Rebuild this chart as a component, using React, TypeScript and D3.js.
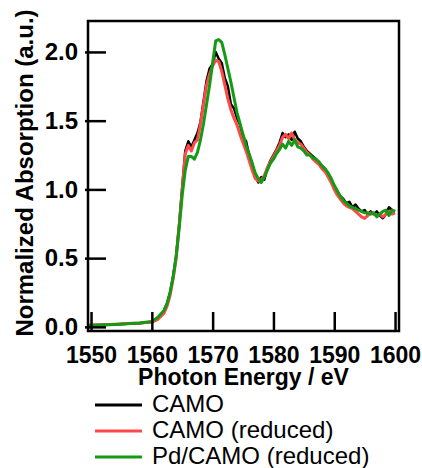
import React, { useEffect, useRef } from 'react';
import * as d3 from 'd3';

const energy = [
  1549.6, 1552, 1554, 1556, 1558, 1560, 1561,
  1562, 1562.5, 1563, 1563.5, 1564, 1564.5, 1565, 1565.5, 1566, 1566.5,
  1567, 1567.5, 1568, 1568.5, 1569, 1569.5, 1570, 1570.5, 1571, 1571.5,
  1572, 1572.5, 1573, 1573.5, 1574, 1574.5, 1575, 1575.5, 1576, 1576.5,
  1577, 1577.5, 1578, 1578.5, 1579, 1579.5, 1580, 1580.5, 1581, 1581.5,
  1582, 1582.5, 1583, 1583.5, 1584, 1584.5, 1585, 1585.5, 1586, 1586.5,
  1587, 1587.5, 1588, 1588.5, 1589, 1589.5, 1590, 1590.5, 1591, 1591.5,
  1592, 1592.5, 1593, 1593.5, 1594, 1594.5, 1595, 1595.5, 1596, 1596.5,
  1597, 1597.5, 1598, 1598.5, 1599, 1599.5, 1600,
];

const camo = [
  0.012, 0.015, 0.018, 0.022, 0.027, 0.035, 0.06,
  0.12, 0.17, 0.25, 0.37, 0.52, 0.75, 1.02, 1.28, 1.35, 1.31,
  1.36, 1.41, 1.49, 1.64, 1.79, 1.88, 1.91, 2.00, 1.95, 1.92,
  1.81, 1.75, 1.62, 1.59, 1.52, 1.47, 1.38, 1.35, 1.25, 1.19,
  1.10, 1.05, 1.09, 1.07, 1.15, 1.21, 1.25, 1.29, 1.34, 1.41,
  1.38, 1.40, 1.36, 1.42, 1.37, 1.35, 1.31, 1.28, 1.26, 1.24,
  1.22, 1.19, 1.17, 1.15, 1.11, 1.07, 1.02, 0.98, 0.95, 0.93,
  0.90, 0.91, 0.87, 0.89, 0.86, 0.84, 0.85, 0.82, 0.84, 0.82,
  0.84, 0.81, 0.79, 0.82, 0.87, 0.85, 0.84,
];

const camoReduced = [
  0.012, 0.016, 0.02, 0.024, 0.028, 0.035, 0.055,
  0.10, 0.15, 0.23, 0.35, 0.50, 0.74, 1.00, 1.26, 1.32, 1.28,
  1.34, 1.36, 1.48, 1.62, 1.76, 1.84, 1.90, 1.94, 1.93, 1.86,
  1.76, 1.66, 1.58, 1.52, 1.47, 1.40, 1.34, 1.28, 1.21, 1.14,
  1.08, 1.06, 1.07, 1.10, 1.16, 1.20, 1.24, 1.28, 1.32, 1.38,
  1.40, 1.37, 1.41, 1.36, 1.34, 1.33, 1.30, 1.27, 1.25, 1.22,
  1.20, 1.18, 1.15, 1.13, 1.09, 1.05, 1.00, 0.96, 0.93, 0.90,
  0.88, 0.87, 0.86, 0.84, 0.82, 0.80, 0.79, 0.81, 0.83, 0.82,
  0.81, 0.82, 0.80, 0.82, 0.84, 0.82, 0.83,
];

const pdCamoReduced = [
  0.01, 0.014, 0.018, 0.022, 0.028, 0.04, 0.07,
  0.12, 0.17, 0.25, 0.36, 0.51, 0.72, 0.96, 1.14, 1.24, 1.24,
  1.22, 1.27, 1.36, 1.48, 1.62, 1.76, 1.92, 2.08, 2.09, 2.07,
  1.98, 1.88, 1.78, 1.67, 1.56, 1.48, 1.40, 1.32, 1.26, 1.19,
  1.12, 1.08, 1.05, 1.09, 1.14, 1.19, 1.22, 1.26, 1.29, 1.33,
  1.30, 1.35, 1.32, 1.36, 1.31, 1.30, 1.28, 1.25, 1.25, 1.23,
  1.22, 1.20, 1.17, 1.15, 1.12, 1.08, 1.03, 0.99, 0.95, 0.92,
  0.90, 0.88, 0.87, 0.86, 0.85, 0.84, 0.83, 0.83, 0.82, 0.83,
  0.80, 0.82, 0.84, 0.85, 0.81, 0.85, 0.84,
];

const seriesNames = ['CAMO', 'CAMO (reduced)', 'Pd/CAMO (reduced)'];
const seriesColors = ['#000000', '#ff4848', '#149a14'];
const xTicks = [1550, 1560, 1570, 1580, 1590, 1600];
const yTicks = [0, 0.5, 1.0, 1.5, 2.0];

const FONT = '"Liberation Sans", Arial, Helvetica, sans-serif';

const App = () => {
  const svgRef = useRef<SVGSVGElement>(null);

  useEffect(() => {
    const svg = d3.select(svgRef.current);
    svg.selectAll('*').remove();

    const left = 88, right = 399, top = 21, bottom = 331;

    const x = d3.scaleLinear().domain([1549.5, 1600.65]).range([left, right]);
    const y = d3.scaleLinear().domain([-0.03, 2.225]).range([bottom, top]);

    // curves
    const allSeries = [camo, camoReduced, pdCamoReduced];
    const line = d3.line<number>()
      .x((d, i) => x(energy[i]))
      .y((d) => y(d));

    allSeries.forEach((vals, k) => {
      svg.append('path')
        .datum(vals)
        .attr('d', line)
        .attr('fill', 'none')
        .attr('stroke', seriesColors[k])
        .attr('stroke-width', k === 0 ? 2.5 : 3)
        .attr('stroke-linejoin', 'round');
    });

    // frame
    svg.append('rect')
      .attr('x', left)
      .attr('y', top)
      .attr('width', right - left)
      .attr('height', bottom - top)
      .attr('fill', 'none')
      .attr('stroke', '#000')
      .attr('stroke-width', 2.5);

    // y axis
    const yAxis = d3.axisLeft(y)
      .tickValues(yTicks)
      .tickFormat(d3.format('.1f'))
      .tickSize(0)
      .tickPadding(10);
    const gy = svg.append('g')
      .attr('transform', `translate(${left},0)`)
      .call(yAxis);
    gy.select('.domain').remove();
    gy.selectAll('.tick line')
      .attr('x1', -3)
      .attr('x2', 18)
      .attr('stroke', '#000')
      .attr('stroke-width', 2.5);
    gy.selectAll('.tick text')
      .attr('fill', '#000')
      .style('font-family', FONT)
      .style('font-weight', 'bold')
      .style('font-size', '24px');

    // x axis
    const xAxis = d3.axisBottom(x)
      .tickValues(xTicks)
      .tickFormat(d3.format('d'))
      .tickSize(0)
      .tickPadding(16);
    const gx = svg.append('g')
      .attr('transform', `translate(0,${bottom})`)
      .call(xAxis);
    gx.select('.domain').remove();
    gx.selectAll('.tick line')
      .attr('y1', 1)
      .attr('y2', -19)
      .attr('stroke', '#000')
      .attr('stroke-width', 2.5);
    gx.selectAll('.tick text')
      .attr('fill', '#000')
      .style('font-family', FONT)
      .style('font-weight', 'bold')
      .style('font-size', '23px');

    // axis titles
    svg.append('text')
      .attr('x', (left + right) / 2)
      .attr('y', 385)
      .attr('text-anchor', 'middle')
      .style('font-family', FONT)
      .style('font-weight', 'bold')
      .style('font-size', '23px')
      .text('Photon Energy / eV');

    svg.append('text')
      .attr('transform', 'translate(33,173) rotate(-90)')
      .attr('text-anchor', 'middle')
      .style('font-family', FONT)
      .style('font-weight', 'bold')
      .style('font-size', '24px')
      .text('Normalized Absorption (a.u.)');

    // legend
    const legend = svg.append('g');
    seriesNames.forEach((name, k) => {
      const ly = 405 + k * 26;
      legend.append('line')
        .attr('x1', 95)
        .attr('x2', 142)
        .attr('y1', ly)
        .attr('y2', ly)
        .attr('stroke', seriesColors[k])
        .attr('stroke-width', 3);
      legend.append('text')
        .attr('x', 152)
        .attr('y', ly + 7)
        .style('font-family', FONT)
        .style('font-size', '24px')
        .text(name);
    });
  }, []);

  return (
    <svg
      ref={svgRef}
      width={422}
      height={468}
      style={{ position: 'absolute', left: 0, top: 0, background: '#fff' }}
    />
  );
};

export default App;
